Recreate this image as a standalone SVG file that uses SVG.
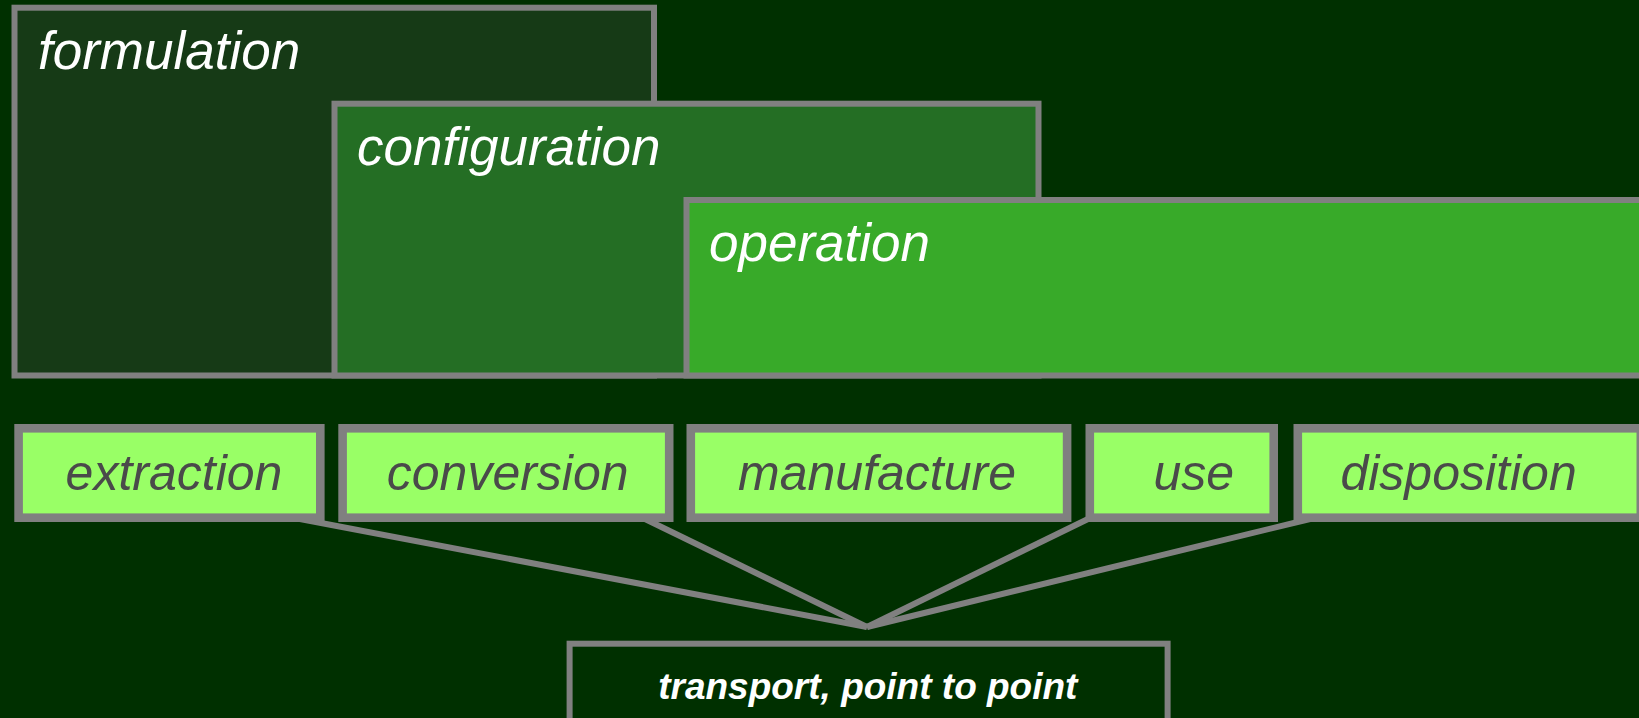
<svg xmlns="http://www.w3.org/2000/svg" width="1639" height="718" viewBox="0 0 1639 718">
<style>
.phase{stroke:#808080;stroke-width:6}
.ptxt{font-family:"Liberation Sans",Arial,sans-serif;font-style:italic;font-size:53px;fill:#ffffff}
.stage{fill:#99ff66;stroke:#808080;stroke-width:8.6}
.stxt{font-family:"Liberation Sans",Arial,sans-serif;font-style:italic;font-size:50px;fill:#4a4a4a;text-anchor:middle}
.conn{stroke:#808080;stroke-width:6;fill:none;stroke-linejoin:miter}
</style>
<rect x="0" y="0" width="1639" height="718" fill="#003000"/>
<g id="formulation">
<rect class="phase" x="14.5" y="7.7" width="639.5" height="367.8" fill="#163a16"/>
<text class="ptxt" x="38" y="69">formulation</text>
</g>
<g id="configuration">
<rect class="phase" x="334.5" y="103.7" width="704" height="271.8" fill="#246e24"/>
<text class="ptxt" x="357" y="165">configuration</text>
</g>
<g id="operation">
<rect class="phase" x="686.5" y="200" width="960" height="175.5" fill="#38aa29"/>
<text class="ptxt" x="709" y="261">operation</text>
</g>
<g id="connectors">
<line class="conn" x1="300" y1="519" x2="867" y2="627"/>
<line class="conn" x1="645" y1="519" x2="867" y2="627"/>
<line class="conn" x1="1088" y1="519" x2="867" y2="627"/>
<line class="conn" x1="1310" y1="519" x2="867" y2="627"/>
</g>
<g id="extraction">
<rect class="stage" x="18.6" y="428.3" width="301.7" height="89.4"/>
<text class="stxt" x="174" y="489.5">extraction</text>
</g>
<g id="conversion">
<rect class="stage" x="342.6" y="428.3" width="326.6" height="89.4"/>
<text class="stxt" x="507.7" y="489.5">conversion</text>
</g>
<g id="manufacture">
<rect class="stage" x="690.8" y="428.3" width="376.3" height="89.4"/>
<text class="stxt" x="877" y="489.5">manufacture</text>
</g>
<g id="use">
<rect class="stage" x="1089.8" y="428.3" width="183.9" height="89.4"/>
<text class="stxt" x="1193.8" y="489.5">use</text>
</g>
<g id="disposition">
<rect class="stage" x="1297.8" y="428.3" width="343" height="89.4"/>
<text class="stxt" x="1458.6" y="489.5">disposition</text>
</g>
<g id="transport">
<rect x="569.6" y="643.7" width="598" height="100" fill="#003000" stroke="#808080" stroke-width="6"/>
<text x="867.8" y="698.7" font-family="'Liberation Sans',Arial,sans-serif" font-style="italic" font-weight="bold" font-size="37" fill="#ffffff" text-anchor="middle">transport, point to point</text>
</g>
</svg>
